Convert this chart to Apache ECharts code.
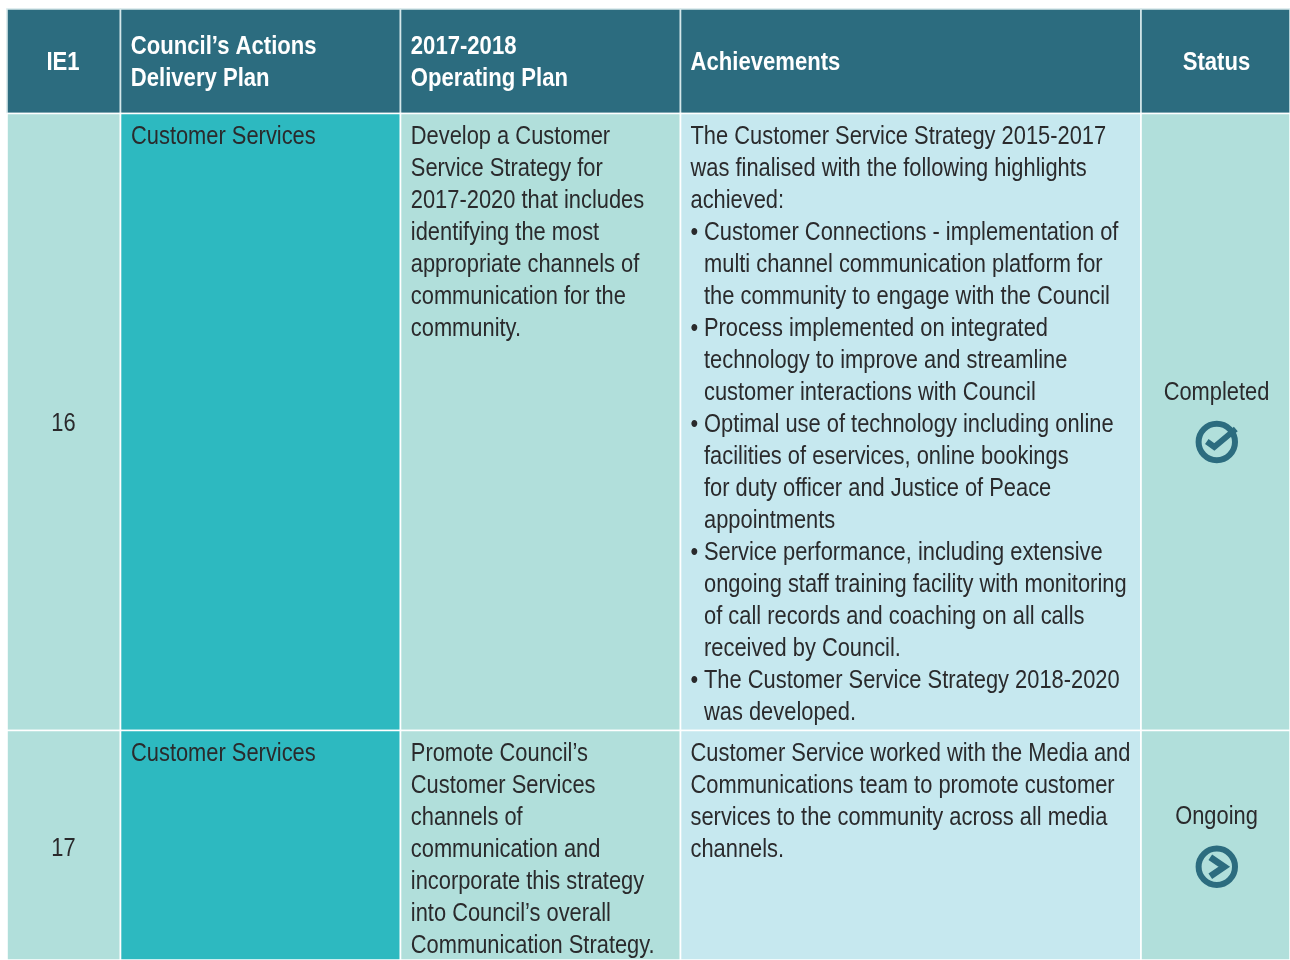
<!DOCTYPE html>
<html><head><meta charset="utf-8">
<style>html,body{margin:0;padding:0;background:#fff}#c{width:1290px;height:960px}</style>
<script src="https://cdn.jsdelivr.net/npm/echarts@6/dist/echarts.min.js"></script>
</head><body><div id="c"></div>
<script>
const headers = [["IE1"],["Council’s Actions","Delivery Plan"],["2017-2018","Operating Plan"],["Achievements"],["Status"]];
const ids = ["16","17"];
const delivery = [["Customer Services"],["Customer Services"]];
const plans = [
 ["Develop a Customer","Service Strategy for","2017-2020 that includes","identifying the most","appropriate channels of","communication for the","community."],
 ["Promote Council’s","Customer Services","channels of","communication and","incorporate this strategy","into Council’s overall","Communication Strategy."]
];
const achievements = [
 ["The Customer Service Strategy 2015-2017","was finalised with the following highlights","achieved:",
  "• Customer Connections - implementation of","multi channel communication platform for","the community to engage with the Council",
  "• Process implemented on integrated","technology to improve and streamline","customer interactions with Council",
  "• Optimal use of technology including online","facilities of eservices, online bookings","for duty officer and Justice of Peace","appointments",
  "• Service performance, including extensive","ongoing staff training facility with monitoring","of call records and coaching on all calls","received by Council.",
  "• The Customer Service Strategy 2018-2020","was developed."],
 ["Customer Service worked with the Media and","Communications team to promote customer","services to the community across all media","channels."]
];
const statuses = ["Completed","Ongoing"];

const colEdges = [7,120.5,400.5,680.5,1141,1290];
const rowEdges = [9,113.5,730.5,960];
const FONT = '"Liberation Sans", Arial, sans-serif';
const SX = 0.841, SXB = 0.85, FS = 26, LH = 32, PAD = 10;
const INK = '#2a2a2c', DARK = '#2c6c7f', TEAL = '#2db9c0', MINT = '#b1dfdb', SKY = '#c6e8ef';

const cellFill = [MINT,TEAL,MINT,SKY,MINT];
const cells = [];
for (let r=0;r<3;r++) for (let c=0;c<5;c++) cells.push([c,r]);

function txt(api,x,y,text,opt){
  const p = api.coord([x,y]);
  return {type:'text',x:p[0],y:p[1],scaleX:opt.bold?SXB:SX,silent:true,
    style:{x:0,y:0,text:text,font:(opt.bold?'bold ':'')+FS+'px '+FONT,fill:opt.fill||INK,
      align:opt.align||'left',verticalAlign:'middle'}};
}
function lines(api,list,x,y,opt){
  const out=[];let indent=false;
  list.forEach((t,i)=>{
    const yy=y+i*LH;
    if(t.startsWith('• ')){indent=true;
      out.push(txt(api,x,yy,'•',opt));
      out.push(txt(api,x+13.5,yy,t.slice(2),opt));
    } else out.push(txt(api,x+(indent?13.5:0),yy,t,opt));
  });
  return out;
}
function icon(api,cx,cy,kind){
  const p=api.coord([cx,cy]);
  const ring={type:'circle',x:p[0],y:p[1],shape:{cx:0,cy:0,r:18.2},style:{fill:null,stroke:DARK,lineWidth:6}};
  const ch=[ring];
  if(kind==='Completed'){
    ch.push({type:'polyline',x:p[0],y:p[1],shape:{points:[[-10,-0.5],[-2.5,5],[19,-13]]},style:{fill:null,stroke:DARK,lineWidth:6}});
  } else {
    ch.push({type:'polyline',x:p[0],y:p[1],shape:{points:[[-6.5,-9.5],[7.5,0],[-6.5,9.5]]},style:{fill:null,stroke:DARK,lineWidth:6.5}});
  }
  return {type:'group',children:ch,silent:true};
}
function renderCell(params,api){
  const c=api.value(0), r=api.value(1);
  const tl=api.coord([colEdges[c],rowEdges[r]]), br=api.coord([colEdges[c+1],rowEdges[r+1]]);
  const children=[{type:'rect',shape:{x:tl[0],y:tl[1],width:br[0]-tl[0],height:br[1]-tl[1]},
    style:{fill:r===0?DARK:cellFill[c],stroke:r===0?'#d6e8ea':'#ffffff',lineWidth:1.6}}];
  const x=colEdges[c]+PAD;
  if(r===0){
    const opt={bold:true,fill:'#ffffff'};
    const h=headers[c];
    if(c===0) children.push(txt(api,63,63,h[0],{...opt,align:'center'}));
    else if(c===4) children.push(txt(api,1216.5,63,h[0],{...opt,align:'center'}));
    else if(h.length===1) children.push(txt(api,x,63,h[0],opt));
    else children.push(...lines(api,h,x+0.3,47,opt));
  } else {
    const i=r-1, top=[137,754][i];
    if(c===0) children.push(txt(api,63.5,[424,849][i],ids[i],{align:'center'}));
    if(c===1) children.push(...lines(api,delivery[i],x+0.5,top,{}));
    if(c===2) children.push(...lines(api,plans[i],x+0.3,top,{}));
    if(c===3) children.push(...lines(api,achievements[i],x,top,{}));
    if(c===4){
      children.push(txt(api,1216.5,[393,817][i],statuses[i],{align:'center'}));
      children.push(icon(api,1216.8,[442,866.8][i],statuses[i]));
    }
  }
  return {type:'group',children};
}
const chart=echarts.init(document.getElementById('c'),null,{renderer:'canvas'});
chart.setOption({
  animation:false,backgroundColor:'#ffffff',tooltip:{show:false},
  grid:{left:0,top:0,right:0,bottom:0},
  xAxis:{type:'value',min:0,max:1290,show:false},
  yAxis:{type:'value',min:0,max:960,inverse:true,show:false},
  series:[{type:'custom',coordinateSystem:'cartesian2d',data:cells,renderItem:renderCell,clip:true,silent:true}]
});
</script></body></html>
